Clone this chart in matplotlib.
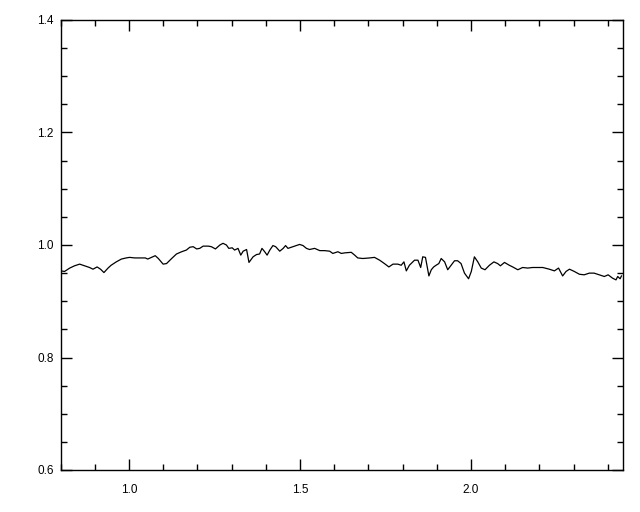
import numpy as np
import matplotlib
matplotlib.use("Agg")
import matplotlib.pyplot as plt
from matplotlib.ticker import MultipleLocator

# 读取自图片的光谱曲线 (波长, 归一化通量)
wave = [0.800, 0.812, 0.827, 0.841, 0.856, 0.871, 0.885, 0.895, 0.907, 0.917,
        0.927, 0.939, 0.948, 0.963, 0.978, 0.992, 1.002, 1.017, 1.036, 1.048,
        1.055, 1.070, 1.077, 1.086, 1.100, 1.110, 1.125, 1.139, 1.154, 1.168,
        1.178, 1.188, 1.198, 1.207, 1.217, 1.232, 1.241, 1.253, 1.266, 1.275,
        1.285, 1.292, 1.302, 1.309, 1.319, 1.327, 1.334, 1.344, 1.351, 1.363,
        1.373, 1.382, 1.389, 1.397, 1.404, 1.412, 1.421, 1.429, 1.441, 1.451,
        1.458, 1.465, 1.475, 1.485, 1.499, 1.509, 1.519, 1.528, 1.543, 1.558,
        1.572, 1.587, 1.596, 1.611, 1.621, 1.631, 1.650, 1.660, 1.669, 1.684,
        1.704, 1.718, 1.733, 1.747, 1.760, 1.772, 1.786, 1.796, 1.804, 1.811,
        1.820, 1.835, 1.845, 1.853, 1.859, 1.867, 1.877, 1.884, 1.891, 1.898,
        1.906, 1.913, 1.923, 1.932, 1.942, 1.952, 1.961, 1.971, 1.981, 1.993,
        2.001, 2.010, 2.020, 2.030, 2.041, 2.054, 2.067, 2.078, 2.086, 2.098,
        2.112, 2.122, 2.137, 2.151, 2.166, 2.180, 2.190, 2.200, 2.210, 2.229,
        2.244, 2.256, 2.268, 2.278, 2.288, 2.302, 2.317, 2.331, 2.346, 2.360,
        2.375, 2.390, 2.401, 2.414, 2.424, 2.429, 2.436, 2.440]
flux = [0.954, 0.953, 0.959, 0.963, 0.966, 0.963, 0.960, 0.957, 0.961, 0.957,
        0.951, 0.959, 0.964, 0.970, 0.975, 0.977, 0.978, 0.977, 0.977, 0.977,
        0.975, 0.979, 0.981, 0.976, 0.966, 0.967, 0.976, 0.984, 0.988, 0.991,
        0.996, 0.997, 0.993, 0.994, 0.998, 0.998, 0.997, 0.993, 1.000, 1.003,
        1.000, 0.994, 0.995, 0.991, 0.994, 0.982, 0.989, 0.992, 0.969, 0.979,
        0.983, 0.984, 0.994, 0.988, 0.982, 0.991, 0.999, 0.997, 0.989, 0.994,
        0.999, 0.994, 0.996, 0.998, 1.001, 0.999, 0.994, 0.992, 0.994, 0.990,
        0.990, 0.989, 0.985, 0.988, 0.985, 0.986, 0.987, 0.982, 0.977, 0.976,
        0.977, 0.978, 0.973, 0.967, 0.961, 0.966, 0.966, 0.964, 0.970, 0.954,
        0.964, 0.973, 0.973, 0.960, 0.979, 0.978, 0.945, 0.956, 0.961, 0.964,
        0.967, 0.976, 0.970, 0.956, 0.964, 0.972, 0.972, 0.967, 0.950, 0.940,
        0.953, 0.979, 0.970, 0.959, 0.956, 0.964, 0.970, 0.967, 0.963, 0.969,
        0.964, 0.961, 0.956, 0.960, 0.959, 0.960, 0.960, 0.960, 0.960, 0.957,
        0.954, 0.959, 0.945, 0.953, 0.957, 0.953, 0.948, 0.947, 0.950, 0.950,
        0.947, 0.944, 0.947, 0.941, 0.938, 0.944, 0.940, 0.945]

plt.rcParams["font.family"] = ["Liberation Sans", "DejaVu Sans"]

fig = plt.figure(figsize=(6.4, 5.12), dpi=100)
ax = fig.add_axes([60.5 / 640, 42 / 512, 562 / 640, 450 / 512])

ax.plot(wave, flux, color="black", linewidth=0.9)

ax.set_xlim(0.8, 2.443)
ax.set_ylim(0.6, 1.4)
ax.xaxis.set_major_locator(MultipleLocator(0.5))
ax.xaxis.set_minor_locator(MultipleLocator(0.1))
ax.yaxis.set_major_locator(MultipleLocator(0.2))
ax.yaxis.set_minor_locator(MultipleLocator(0.05))
ax.xaxis.set_major_formatter(plt.FormatStrFormatter("%.1f"))
ax.yaxis.set_major_formatter(plt.FormatStrFormatter("%.1f"))

ax.tick_params(which="both", direction="in", top=True, right=True,
               color="black", width=1.0, labelsize=8.5)
ax.tick_params(which="major", length=8)
ax.tick_params(which="minor", length=4.3)
ax.tick_params(axis="x", which="major", pad=10)
ax.tick_params(axis="y", which="major", pad=5)
for s in ax.spines.values():
    s.set_linewidth(1.0)

fig.savefig("out.png", dpi=100)
